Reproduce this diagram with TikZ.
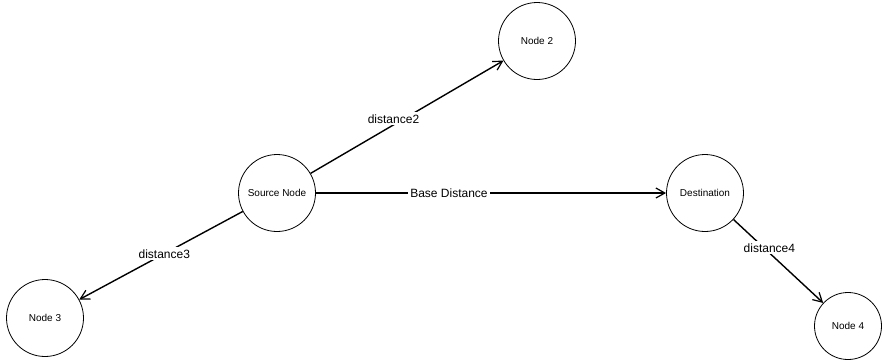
\documentclass[tikz,border=0pt]{standalone}
\usepackage{fontspec}
\setmainfont{Liberation Sans}
\usetikzlibrary{arrows.meta}

\begin{document}
\begin{tikzpicture}[x=1pt,y=-1pt,
  place/.style={circle,draw,line width=0.8pt,minimum size=77pt,inner sep=0pt,font=\fontsize{10}{12}\selectfont},
  link/.style={-{Straight Barb[length=9pt,width=10pt,line width=1.2pt]},line width=1.4pt},
  dist/.style={fill=white,inner sep=2pt,font=\fontsize{12}{14}\selectfont}]
\useasboundingbox (0,0) rectangle (883,360);

% the five places
\node[place] (src) at (277,193) {Source Node};
\node[place] (two) at (537,41) {Node 2};
\node[place] (dst) at (705,193) {Destination};
\node[place] (three) at (45,318) {Node 3};
\node[place,minimum size=67pt] (four) at (848,326) {Node 4};

% the weighted links
\draw[link] (src) -- node[dist,pos=0.43,yshift=6pt] {distance2} (two);
\draw[link] (src) -- node[dist,pos=0.38] {Base Distance} (dst);
\draw[link] (src) -- node[dist,pos=0.48] {distance3} (three);
\draw[link] (dst) -- node[dist,pos=0.4,yshift=5pt] {distance4} (four);
\end{tikzpicture}
\end{document}
